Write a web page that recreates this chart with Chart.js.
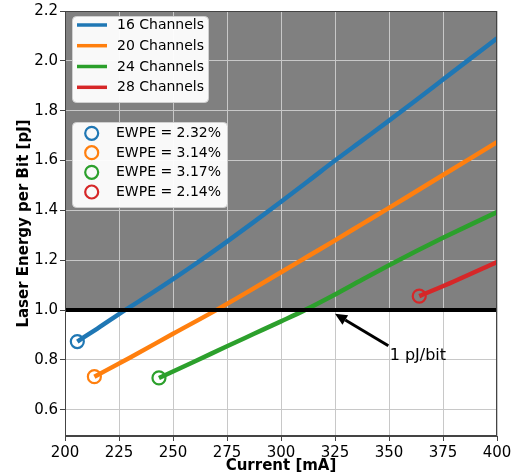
<!DOCTYPE html>
<html>
<head>
<meta charset="utf-8">
<script src="https://cdn.jsdelivr.net/npm/chart.js@4/dist/chart.umd.min.js"></script>
<style>
html,body{margin:0;padding:0;background:#fff;}
#wrap{width:520px;height:475px;position:relative;}
</style>
</head>
<body>
<div id="wrap"><canvas id="c" width="520" height="475"></canvas></div>
<script>
// ---- data ----
const seriesLabels = ['16 Channels', '20 Channels', '24 Channels', '28 Channels'];
const ewpeLabels = ['EWPE = 2.32%', 'EWPE = 3.14%', 'EWPE = 3.17%', 'EWPE = 2.14%'];
const seriesColors = ['#1f77b4', '#ff7f0e', '#2ca02c', '#d62728'];

const current16 = [205.7, 215, 227.8, 240, 250, 262.5, 275, 287.5, 300, 312.5, 325, 337.5, 350, 362.5, 375, 387.5, 400];
const energy16  = [0.874, 0.926, 1.0, 1.067, 1.124, 1.198, 1.275, 1.354, 1.435, 1.517, 1.600, 1.680, 1.760, 1.842, 1.925, 2.008, 2.090];

const current20 = [213.6, 230, 250, 270, 285, 300, 312.5, 325, 337.5, 350, 362.5, 375, 387.5, 400];
const energy20  = [0.733, 0.809, 0.905, 1.0, 1.075, 1.152, 1.216, 1.280, 1.345, 1.410, 1.476, 1.542, 1.608, 1.674];

const current24 = [243.5, 260, 275, 287.5, 300, 311, 325, 337.5, 350, 362.5, 375, 387.5, 400];
const energy24  = [0.728, 0.794, 0.855, 0.905, 0.955, 1.0, 1.063, 1.122, 1.180, 1.236, 1.290, 1.342, 1.393];

const current28 = [364, 380, 400];
const energy28  = [1.056, 1.115, 1.193];

const thresholdCurrent = [200, 400];
const thresholdEnergy = [1.0, 1.0];

const xTicks = [200, 225, 250, 275, 300, 325, 350, 375, 400];
const yTicks = [0.6, 0.8, 1.0, 1.2, 1.4, 1.6, 1.8, 2.0, 2.2];

const annotationText = '1 pJ/bit';
// ---------------------------------------

const FONT = "'DejaVu Sans', 'Liberation Sans', sans-serif";
Chart.defaults.font.family = FONT;
Chart.defaults.font.size = 15;
Chart.defaults.color = '#000';

function pts(xs, ys){ return xs.map((x,i)=>({x:x, y:ys[i]})); }

const currents = [current16, current20, current24, current28];
const energies = [energy16, energy20, energy24, energy28];

const datasets = [{
  label: '1 pJ/bit line',
  data: pts(thresholdCurrent, thresholdEnergy),
  borderColor: '#000',
  borderWidth: 4,
  pointRadius: 0,
  order: -1
}];
seriesLabels.forEach((lab, i) => {
  datasets.push({
    label: lab,
    data: pts(currents[i], energies[i]),
    borderColor: seriesColors[i],
    backgroundColor: 'rgba(0,0,0,0)',
    borderWidth: 4.5,
    cubicInterpolationMode: 'monotone',
    pointRadius: ctx => ctx.dataIndex === 0 ? 6.5 : 0,
    pointHoverRadius: 0,
    pointBorderWidth: 2.2,
    pointBorderColor: seriesColors[i],
    pointBackgroundColor: 'rgba(0,0,0,0)',
    order: i
  });
});

const bgPlugin = {
  id: 'bgShade',
  beforeDraw(chart){
    const {ctx, chartArea:a, scales} = chart;
    const y1 = scales.y.getPixelForValue(thresholdEnergy[0]);
    ctx.save();
    ctx.fillStyle = '#808080';
    ctx.fillRect(a.left, a.top, a.right - a.left, y1 - a.top);
    ctx.restore();
  }
};

const overlayPlugin = {
  id: 'overlay',
  afterDraw(chart){
    const {ctx, chartArea:a, scales} = chart;
    const xs = scales.x, ys = scales.y;
    ctx.save();
    // frame
    ctx.strokeStyle = '#444';
    ctx.lineWidth = 1;
    ctx.strokeRect(a.left + 0.5, a.top + 0.5, a.right - a.left - 1, a.bottom - a.top - 1);

    // arrow annotation
    const tx = xs.getPixelForValue(325), ty = ys.getPixelForValue(0.985);
    const sx = xs.getPixelForValue(349.7), sy = ys.getPixelForValue(0.857);
    const ang = Math.atan2(ty - sy, tx - sx);
    const headL = 12, headW = 5.5;
    const bx = tx - headL * Math.cos(ang), by = ty - headL * Math.sin(ang);
    ctx.strokeStyle = '#000';
    ctx.lineWidth = 3;
    ctx.beginPath(); ctx.moveTo(sx, sy); ctx.lineTo(bx, by); ctx.stroke();
    ctx.fillStyle = '#000';
    ctx.beginPath();
    ctx.moveTo(tx, ty);
    ctx.lineTo(bx + headW * Math.sin(ang), by - headW * Math.cos(ang));
    ctx.lineTo(bx - headW * Math.sin(ang), by + headW * Math.cos(ang));
    ctx.closePath(); ctx.fill();
    ctx.font = '16px ' + FONT;
    ctx.textAlign = 'left'; ctx.textBaseline = 'middle';
    ctx.fillText(annotationText, xs.getPixelForValue(350.3), ys.getPixelForValue(0.817));

    ctx.font = '14px ' + FONT;
    // legend 1 (lines)
    const L = a.left;
    ctx.fillStyle = 'rgba(255,255,255,0.95)';
    ctx.strokeStyle = '#d0d0d0';
    ctx.lineWidth = 1;
    roundRect(ctx, L + 7.5, a.top + 5.5, 136, 86, 4);
    ctx.fill(); ctx.stroke();
    const rows1 = [25, 45.7, 66.5, 87.3];
    seriesLabels.forEach((lab, i) => {
      const y = rows1[i];
      ctx.strokeStyle = seriesColors[i];
      ctx.lineWidth = 3.5;
      ctx.beginPath(); ctx.moveTo(L + 12, y); ctx.lineTo(L + 42, y); ctx.stroke();
      ctx.fillStyle = '#000';
      ctx.fillText(lab, L + 52, y + 0.5);
    });

    // legend 2 (circles)
    ctx.fillStyle = 'rgba(255,255,255,0.95)';
    ctx.strokeStyle = '#d0d0d0';
    ctx.lineWidth = 1;
    roundRect(ctx, L + 7.5, 122.5, 155, 85, 4);
    ctx.fill(); ctx.stroke();
    const rows2 = [133.3, 152.7, 172.3, 192];
    ewpeLabels.forEach((lab, i) => {
      const y = rows2[i];
      ctx.strokeStyle = seriesColors[i];
      ctx.lineWidth = 2.2;
      ctx.beginPath(); ctx.arc(L + 26.7, y, 6.5, 0, Math.PI * 2); ctx.stroke();
      ctx.fillStyle = '#000';
      ctx.fillText(lab, L + 51, y + 0.5);
    });
    ctx.restore();
  }
};

function roundRect(ctx, x, y, w, h, r){
  ctx.beginPath();
  ctx.moveTo(x + r, y);
  ctx.lineTo(x + w - r, y); ctx.quadraticCurveTo(x + w, y, x + w, y + r);
  ctx.lineTo(x + w, y + h - r); ctx.quadraticCurveTo(x + w, y + h, x + w - r, y + h);
  ctx.lineTo(x + r, y + h); ctx.quadraticCurveTo(x, y + h, x, y + h - r);
  ctx.lineTo(x, y + r); ctx.quadraticCurveTo(x, y, x + r, y);
  ctx.closePath();
}

new Chart(document.getElementById('c'), {
  type: 'line',
  data: { datasets },
  plugins: [bgPlugin, overlayPlugin],
  options: {
    responsive: false,
    animation: false,
    devicePixelRatio: 1,
    layout: { padding: { left: 0, right: 23, top: 8, bottom: 0 } },
    plugins: { legend: { display: false }, tooltip: { enabled: false } },
    scales: {
      x: {
        type: 'linear',
        min: 200, max: 400,
        afterBuildTicks: s => { s.ticks = xTicks.map(v => ({value: v})); },
        afterFit: s => { s.height = 39; },
        ticks: { padding: 3, font: { size: 15 }, color: '#000' },
        grid: { color: '#c8c8c8', lineWidth: 1, tickLength: 5, tickColor: '#444' },
        border: { color: '#444', width: 1 },
        title: { display: true, text: 'Current [mA]', font: { size: 15, weight: 'bold', lineHeight: 1.0 }, color: '#000', padding: { top: 0, bottom: 1 } }
      },
      y: {
        type: 'linear',
        min: 0.495, max: 2.2,
        afterBuildTicks: s => { s.ticks = yTicks.map(v => ({value: v})); },
        afterFit: s => { s.width = 65; },
        ticks: { padding: 2, font: { size: 15 }, color: '#000', callback: v => Number(v).toFixed(1) },
        grid: { color: '#c8c8c8', lineWidth: 1, tickLength: 5, tickColor: '#444' },
        border: { color: '#444', width: 1 },
        title: { display: true, text: 'Laser Energy per Bit [pJ]', font: { size: 15, weight: 'bold' }, color: '#000', padding: { top: 15, bottom: 0 } }
      }
    }
  }
});
</script>
</body>
</html>
